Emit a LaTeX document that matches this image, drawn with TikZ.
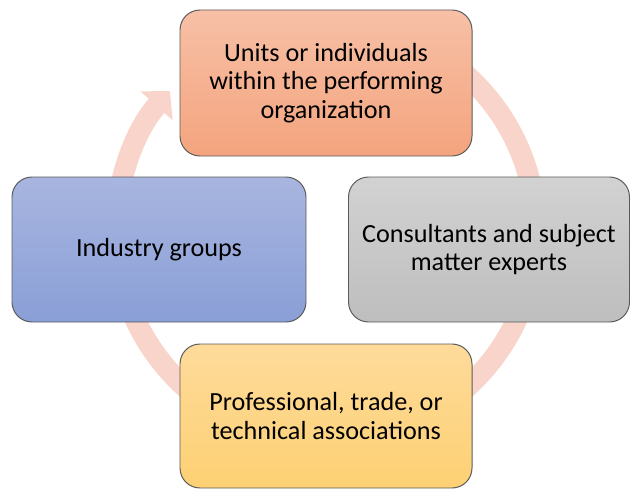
\documentclass[tikz,border=0pt]{standalone}
\usepackage{fontspec}
\setmainfont{Carlito}
\usetikzlibrary{arrows.meta}

\definecolor{ringpink}{HTML}{F8D4CB}
\definecolor{edgegray}{HTML}{5A5A5A}

\tikzset{block/.style={draw=edgegray,line width=0.7pt,rectangle,rounded corners=0.5cm,
		align=center,inner sep=0pt,font=\fontsize{18.6}{20.3}\selectfont}
}
\tikzstyle{ring}=[ringpink,line width=0.525cm,-{Triangle[width=1.05cm,length=0.5cm]}]

\begin{document}
\begin{tikzpicture}[x=0.025cm,y=0.025cm]
			\useasboundingbox (0,0) rectangle (630,489);
			\coordinate (O) at (326,257.5);
			% cycle arrow behind the boxes
			\draw[ring] (O) ++(90:210) arc[start angle=90, end angle=-222, radius=210];
			
			\node (unit)[block,minimum width=292*0.025cm,minimum height=146*0.025cm,
				top color={rgb,255:red,247;green,192;blue,166},bottom color={rgb,255:red,244;green,164;blue,126}]
				at (326,406) {Units or individuals\\within the performing\\organization};
			\node (cons)[block,minimum width=281*0.025cm,minimum height=145*0.025cm,
				top color={rgb,255:red,210;green,210;blue,210},bottom color={rgb,255:red,190;green,190;blue,190}]
				at (489,239.5) {Consultants and subject\\matter experts};
			\node (prof)[block,minimum width=292*0.025cm,minimum height=144*0.025cm,
				top color={rgb,255:red,254;green,219;blue,155},bottom color={rgb,255:red,253;green,208;blue,115}]
				at (326,73) {Professional, trade, or\\technical associations};
			\node (indu)[block,minimum width=294*0.025cm,minimum height=145*0.025cm,
				top color={rgb,255:red,168;green,181;blue,223},bottom color={rgb,255:red,138;green,159;blue,215}]
				at (159,239.5) {Industry groups};
		\end{tikzpicture}
\end{document}
